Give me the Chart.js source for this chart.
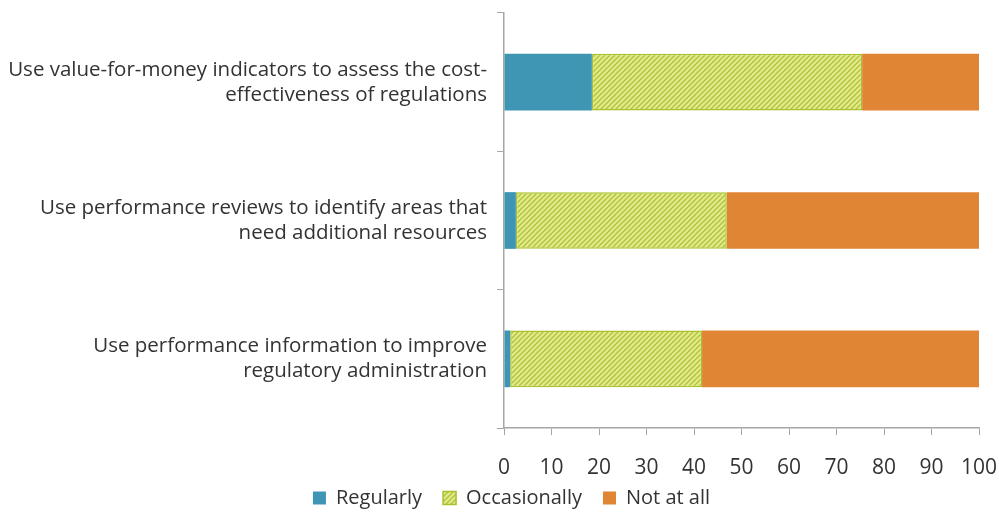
<!DOCTYPE html>
<html>
<head>
<meta charset="utf-8">
<script src="https://cdn.jsdelivr.net/npm/chart.js@4"></script>
<style>
  html, body { margin: 0; padding: 0; background: #fff; }
  #wrap { width: 999px; height: 512px; }
</style>
</head>
<body>
<div id="wrap"><canvas id="myChart" width="999" height="512"></canvas></div>
<script>
const categories = [
  ['Use value-for-money indicators to assess the cost-', 'effectiveness of regulations'],
  ['Use performance reviews to identify areas that', 'need additional resources'],
  ['Use performance information to improve', 'regulatory administration']
];
const regularly = [18.5, 2.5, 1.3];
const occasionally = [56.9, 44.4, 40.4];
const notAtAll = [24.6, 53.1, 58.3];
const xTicks = [0, 10, 20, 30, 40, 50, 60, 70, 80, 90, 100];

// patrón rayado para "Occasionally"
const makeHatch = () => {
  const c = document.createElement('canvas');
  c.width = 5; c.height = 5;
  const g = c.getContext('2d');
  g.fillStyle = '#e4ea8c';
  g.fillRect(0, 0, 5, 5);
  g.strokeStyle = '#aec23a';
  g.lineWidth = 1.3;
  g.beginPath();
  g.moveTo(-1, 6); g.lineTo(6, -1);
  g.moveTo(-1, 1); g.lineTo(1, -1);
  g.moveTo(4, 6); g.lineTo(6, 4);
  g.stroke();
  return g.createPattern(c, 'repeat');
};

// la leyenda ocupa menos alto que lo que calcula Chart.js y se recoloca
const legendFit = {
  id: 'legendFit',
  beforeLayout(chart) {
    const lg = chart.legend;
    if (lg && !lg._patched) {
      const orig = lg.fit;
      lg.fit = function () { orig.call(this); this.height = 30; };
      lg._patched = true;
    }
  },
  afterLayout(chart) {
    const lg = chart.legend;
    lg.top = chart.chartArea.bottom + 39;
    lg.bottom = chart.height;
    lg.height = lg.bottom - lg.top;
    lg.left += 22;
    lg.right += 22;
  }
};

const ctx = document.getElementById('myChart').getContext('2d');
const family = "'Open Sans', Lato, sans-serif";
const labelFont = { family: family, size: 20.5, lineHeight: 1.22 };
const tickFont = { family: family, size: 21, lineHeight: 1.1 };
const legendFont = { family: family, size: 20, lineHeight: 1.1 };

const myChart = new Chart(ctx, {
  type: 'bar',
  data: {
    labels: categories,
    datasets: [
      { label: 'Regularly', data: regularly, backgroundColor: '#3f96b4', borderWidth: 0 },
      { label: 'Occasionally', data: occasionally, backgroundColor: makeHatch(), borderColor: '#a9c12a', borderWidth: 1.5, borderSkipped: false },
      { label: 'Not at all', data: notAtAll, backgroundColor: '#e08534', borderWidth: 0 }
    ]
  },
  plugins: [legendFit],
  options: {
    indexAxis: 'y',
    responsive: false,
    animation: false,
    layout: { padding: { top: 13, right: 20, bottom: 0, left: 0 } },
    datasets: { bar: { barPercentage: 0.41, categoryPercentage: 1 } },
    scales: {
      x: {
        stacked: true,
        min: 0,
        max: 100,
        afterBuildTicks: (scale) => { scale.ticks = xTicks.map(v => ({ value: v })); },
        afterFit: (scale) => { scale.paddingLeft = 0; scale.paddingRight = 0; scale.height = 54; },
        grid: { drawOnChartArea: false, tickLength: 7, color: '#a6a6a6' },
        border: { color: '#a6a6a6', width: 1.5 },
        ticks: { color: '#333', font: tickFont, padding: 21 }
      },
      y: {
        stacked: true,
        afterFit: (scale) => { scale.width = 504; scale.paddingTop = 0; scale.paddingBottom = 0; },
        grid: { drawOnChartArea: false, offset: true, tickLength: 7, color: '#a6a6a6' },
        border: { color: '#a6a6a6', width: 1.5 },
        ticks: { color: '#333', font: labelFont, padding: 10 }
      }
    },
    plugins: {
      tooltip: { enabled: false },
      legend: {
        position: 'bottom',
        labels: { boxWidth: 13, boxHeight: 13, color: '#333', font: legendFont, padding: 21 }
      }
    }
  }
});
</script>
</body>
</html>
